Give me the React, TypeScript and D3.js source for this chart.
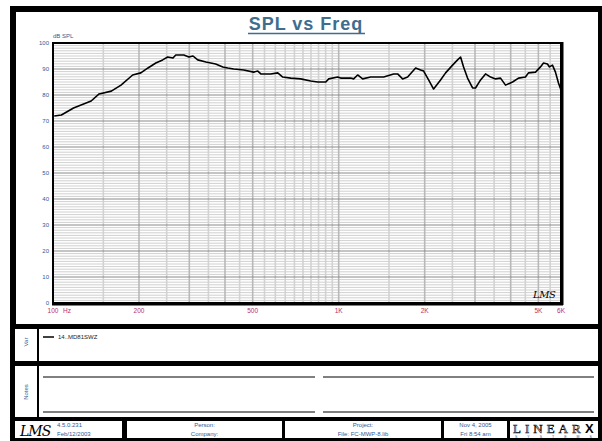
import React from "react";
import * as d3 from "d3";

const freqs = [101, 107, 118, 136, 145, 160, 173, 190, 203, 215, 229, 242, 252, 263, 269, 287, 299, 309, 321, 343, 371, 393, 409, 429, 465, 504, 521, 534, 578, 612, 637, 680, 736, 798, 845, 901, 923, 992, 1016, 1102, 1128, 1165, 1213, 1294, 1437, 1557, 1608, 1674, 1743, 1859, 1935, 1983, 2064, 2149, 2273, 2367, 2504, 2607, 2671, 2736, 2825, 2942, 3013, 3138, 3266, 3401, 3540, 3685, 3837, 4060, 4260, 4506, 4616, 4886, 5085, 5210, 5380, 5467, 5601, 5738, 5879, 6000];
const spl = [71.9, 72.3, 75.0, 77.7, 80.4, 81.5, 83.8, 87.7, 88.5, 90.4, 92.3, 93.5, 94.6, 94.2, 95.4, 95.4, 94.6, 95.0, 93.5, 92.7, 91.9, 90.8, 90.4, 90.0, 89.6, 88.8, 89.2, 88.1, 88.1, 88.5, 86.9, 86.5, 86.2, 85.4, 85.0, 85.0, 86.2, 86.9, 86.5, 86.5, 86.2, 87.7, 86.2, 86.9, 86.9, 88.1, 88.1, 86.2, 86.9, 90.4, 89.6, 89.2, 85.8, 82.3, 85.8, 88.5, 91.5, 93.5, 94.6, 90.8, 86.5, 82.7, 82.7, 85.8, 88.1, 86.9, 86.2, 86.5, 83.8, 85.0, 86.5, 86.9, 88.5, 88.8, 90.8, 92.3, 91.9, 90.8, 91.5, 88.8, 84.6, 81.9];

const yTicks = [0, 10, 20, 30, 40, 50, 60, 70, 80, 90, 100];
const xTickValues = [100, 200, 500, 1000, 2000, 5000, 6000];
const xTickLabels = ["100", "200", "500", "1K", "2K", "5K", "6K"];
const gridMultipliers = [1, 1.5, 2, 2.5, 3, 3.5, 4, 4.5, 5, 5.5, 6, 6.5, 7, 7.5, 8, 8.5, 9, 9.5];
const decades = [100, 1000];

const title = "SPL vs Freq";
const yUnit = "dB SPL";
const legendName = "14..MD81SWZ";
const footerCells = [
  { lines: ["Person:", "Company:"] },
  { lines: ["Project:", "File: FC-MWP-8.lib"] },
  { lines: ["Nov 4, 2005", "Fri 8:54 am"] },
];
const versionLines = ["4.5.0.231", "Feb/12/2003"];

const SANS = "'Liberation Sans', Arial, sans-serif";
const BLUE = "#2b5b9b";
const RED = "#b8306a";

export default function App() {
  const x = d3.scaleLog().domain([100, 6000]).range([53, 561]);
  const y = d3.scaleLinear().domain([0, 100]).range([303, 43]);
  const line = d3
    .line<number>()
    .x((_, i) => x(freqs[i]))
    .y((d) => y(d))
    .curve(d3.curveLinear);

  const vGrid: number[] = [];
  decades.forEach((d) =>
    gridMultipliers.forEach((m) => {
      const f = d * m;
      if (f > 100 && f < 6000) vGrid.push(f);
    })
  );
  const minorY = d3.range(1, 100, 1).filter((v) => v % 10 !== 0);

  const footerX = [[127, 282], [285, 441], [444, 507]];

  return (
    <svg
      width={602}
      height={441}
      style={{ position: "absolute", left: 0, top: 0, display: "block" }}
    >
      <rect x={0} y={0} width={602} height={441} fill="#fff" />
      <rect x={10} y={6} width={592} height={435} fill="#000" />
      {/* chart panel */}
      <rect x={16} y={12} width={582} height={312} fill="#fff" />
      {/* var panel */}
      <rect x={15} y={329} width={22} height={32} fill="#fff" />
      <rect x={39} y={329} width={559} height={32} fill="#fff" />
      {/* notes panel */}
      <rect x={15} y={366} width={22} height={51} fill="#fff" />
      <rect x={39} y={366} width={559} height={51} fill="#fff" />
      {/* footer cells */}
      <rect x={15} y={421} width={107} height={17} fill="#fff" />
      {footerX.map(([a, b], i) => (
        <rect key={i} x={a} y={421} width={b - a} height={17} fill="#fff" />
      ))}
      <rect x={510} y={421} width={88} height={17} fill="#fff" />

      {/* title */}
      <text
        x={306}
        y={30}
        textAnchor="middle"
        fontFamily={SANS}
        fontWeight="bold"
        fontSize={18}
        letterSpacing={1}
        fill="#3e6d8e"
      >
        {title}
      </text>
      <line x1={248} x2={365} y1={33.5} y2={33.5} stroke="#3e6d8e" strokeWidth={1.5} />
      <text x={53} y={38} fontFamily={SANS} fontSize={6} fill={BLUE}>
        {yUnit}
      </text>

      {/* grid */}
      <g>
        {minorY.map((v) => (
          <line key={"h" + v} x1={53} x2={561} y1={y(v)} y2={y(v)} stroke="#c4c4c4" strokeWidth={0.8} />
        ))}
        {vGrid.map((f) => (
          <line
            key={"v" + f}
            x1={x(f)}
            x2={x(f)}
            y1={43}
            y2={303}
            stroke={Number.isInteger(Math.log10(f)) || [2, 3, 4, 5].includes(f / (f >= 1000 ? 1000 : 100)) ? "#b8b8b8" : "#d2d2d2"}
            strokeWidth={1.6}
          />
        ))}
        {yTicks.map((v) => (
          <line key={"m" + v} x1={53} x2={561} y1={y(v)} y2={y(v)} stroke="#8a8a8a" strokeWidth={1} />
        ))}
      </g>

      {/* curve */}
      <path d={line(spl) || ""} fill="none" stroke="#000" strokeWidth={1.6} strokeLinejoin="round" />

      {/* plot frame */}
      <rect x={53} y={43} width={508} height={260} fill="none" stroke="#000" strokeWidth={2} />
      <line x1={562} x2={562} y1={42} y2={305} stroke="#000" strokeWidth={3} />
      <line x1={52} x2={563} y1={304} y2={304} stroke="#000" strokeWidth={3} />

      {/* y ticks */}
      {yTicks.map((v) => (
        <text key={v} x={49} y={y(v) + 2} textAnchor="end" fontFamily={SANS} fontSize={6} fill={BLUE}>
          {v}
        </text>
      ))}
      {/* x ticks */}
      {xTickValues.map((f, i) => (
        <text key={f} x={x(f)} y={313} textAnchor="middle" fontFamily={SANS} fontSize={6.5} fill={RED}>
          {xTickLabels[i]}
        </text>
      ))}
      <text x={63} y={313} fontFamily={SANS} fontSize={6.5} fill={RED}>
        Hz
      </text>

      {/* LMS logo in plot */}
      <text x={533} y={298} fontFamily="'DejaVu Serif', serif" fontStyle="italic" fontSize={10} fill="#000" letterSpacing={-0.5}>
        LMS
      </text>

      {/* var panel */}
      <text
        transform="translate(28,342) rotate(-90)"
        textAnchor="middle"
        fontFamily={SANS}
        fontSize={6}
        fill={BLUE}
      >
        Var
      </text>
      <line x1={43} x2={54} y1={337} y2={337} stroke="#000" strokeWidth={1.5} />
      <text x={58} y={339} fontFamily={SANS} fontSize={6} fill="#222">
        {legendName}
      </text>

      {/* notes panel */}
      <text
        transform="translate(28,392) rotate(-90)"
        textAnchor="middle"
        fontFamily={SANS}
        fontSize={6}
        fill={BLUE}
      >
        Notes
      </text>
      <line x1={43} x2={315} y1={377} y2={377} stroke="#000" strokeWidth={1} />
      <line x1={323} x2={594} y1={377} y2={377} stroke="#000" strokeWidth={1} />
      <line x1={43} x2={315} y1={412} y2={412} stroke="#000" strokeWidth={1} />
      <line x1={323} x2={594} y1={412} y2={412} stroke="#000" strokeWidth={1} />

      {/* footer */}
      <text x={20} y={436} fontFamily="'DejaVu Serif', serif" fontStyle="italic" fontSize={14} fill="#000" letterSpacing={-1}>
        LMS
      </text>
      {versionLines.map((t, i) => (
        <text key={t} x={57} y={427 + i * 8.5} fontFamily={SANS} fontSize={6} fill={BLUE}>
          {t}
        </text>
      ))}
      {footerCells.map((c, i) => (
        <g key={i}>
          {c.lines.map((t, j) => (
            <text
              key={t}
              x={(footerX[i][0] + footerX[i][1]) / 2}
              y={427 + j * 8.5}
              textAnchor="middle"
              fontFamily={SANS}
              fontSize={6}
              fill={BLUE}
            >
              {t}
            </text>
          ))}
        </g>
      ))}
      <text x={513} y={433} fontFamily="'Liberation Serif', serif" fontSize={13} fill="#fff" stroke="#000" strokeWidth={0.6} letterSpacing={4}>
        LINEAR
      </text>
      <text x={585} y={433} fontFamily="'Liberation Sans', sans-serif" fontWeight="bold" fontSize={13} fill="#000">
        X
      </text>
      <text x={515} y={438} fontFamily={SANS} fontSize={3.5} fill={BLUE} letterSpacing={10}>
        SYSTEMS
      </text>
    </svg>
  );
}
